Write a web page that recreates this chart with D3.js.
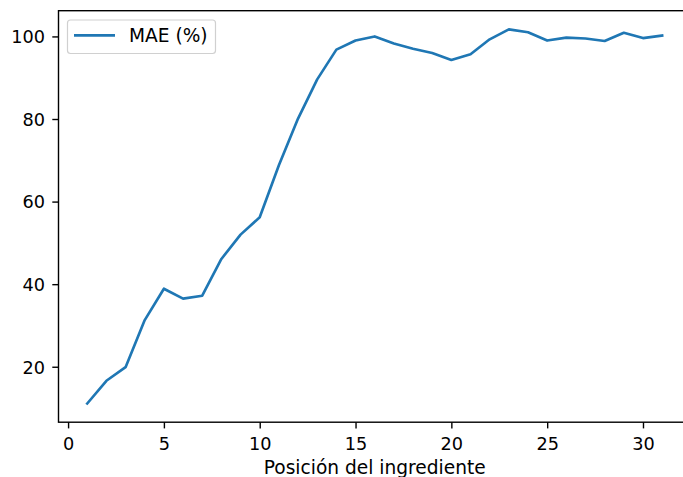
<!DOCTYPE html>
<html><head><meta charset="utf-8">
<script src="https://cdn.jsdelivr.net/npm/d3@7"></script>
<style>html,body{margin:0;padding:0;background:#fff;overflow:hidden}</style>
</head><body><svg id="c" width="683" height="477"></svg>
<script>
const positions = d3.range(1, 32);
const maeValues = [11.1, 16.6, 19.9, 31.3, 38.9, 36.5, 37.2, 46.1, 52.0, 56.2, 68.8, 80.1, 89.6, 96.8, 99.0, 100.0, 98.3, 97.0, 96.0, 94.3, 95.7, 99.3, 101.7, 101.0, 99.0, 99.7, 99.5, 98.9, 100.9, 99.6, 100.2];
const xTicks = [0, 5, 10, 15, 20, 25, 30];
const yTicks = [20, 40, 60, 80, 100];
const seriesName = "MAE (%)";
const xLabel = "Posición del ingrediente";

const svg = d3.select("#c");
const font = "'DejaVu Sans', sans-serif";
const fs = 17.7;
const fsL = 18.6;
const L = 58.5, R = 690.9, T = 10.7, B = 422.2;

const xPad = (d3.max(positions) - d3.min(positions)) * 0.05;
const x = d3.scaleLinear().domain([d3.min(positions) - xPad, d3.max(positions) + xPad]).range([L, R]);
const yPad = (d3.max(maeValues) - d3.min(maeValues)) * 0.05;
const y = d3.scaleLinear().domain([d3.min(maeValues) - yPad, d3.max(maeValues) + yPad]).range([B, T]);

// line
const data = positions.map((p, i) => [p, maeValues[i]]);
svg.append("path").datum(data)
  .attr("d", d3.line().x(d => x(d[0])).y(d => y(d[1])))
  .attr("fill", "none").attr("stroke", "#1f77b4").attr("stroke-width", 2.65)
  .attr("stroke-linejoin", "round").attr("stroke-linecap", "square");

// spines
svg.append("rect").attr("x", L).attr("y", T).attr("width", R - L).attr("height", B - T)
  .attr("fill", "none").attr("stroke", "#000").attr("stroke-width", 1.4);

// axes
const xAxis = svg.append("g").attr("transform", `translate(0,${B})`)
  .call(d3.axisBottom(x).tickValues(xTicks).tickSize(6.2).tickPadding(6.2).tickSizeOuter(0));
const yAxis = svg.append("g").attr("transform", `translate(${L},0)`)
  .call(d3.axisLeft(y).tickValues(yTicks).tickSize(6.2).tickPadding(6.2).tickSizeOuter(0));
[xAxis, yAxis].forEach(g => {
  g.select(".domain").remove();
  g.selectAll(".tick line").attr("stroke", "#000").attr("stroke-width", 1.4);
  g.selectAll(".tick text").attr("fill", "#000").style("font-family", font).style("font-size", fs + "px");
});
xAxis.selectAll(".tick text").attr("dy", null).attr("y", 28);
yAxis.selectAll(".tick text").attr("dy", "0.36em").attr("x", -13.5);

// x label
svg.append("text").attr("x", (L + R) / 2).attr("y", 474)
  .attr("text-anchor", "middle").style("font-family", font).style("font-size", fsL + "px")
  .attr("fill", "#000").text(xLabel);

// legend
const lg = svg.append("g");
lg.append("rect").attr("x", 67.5).attr("y", 20).attr("width", 148).attr("height", 33.5)
  .attr("rx", 3).attr("fill", "#fff").attr("fill-opacity", 0.8).attr("stroke", "#d0d0d0").attr("stroke-width", 1.2);
lg.append("line").attr("x1", 74).attr("x2", 115).attr("y1", 35.3).attr("y2", 35.3)
  .attr("stroke", "#1f77b4").attr("stroke-width", 2.65);
lg.append("text").attr("x", 129).attr("y", 42).style("font-family", font).style("font-size", fsL + "px")
  .attr("fill", "#000").text(seriesName);
</script></body></html>
